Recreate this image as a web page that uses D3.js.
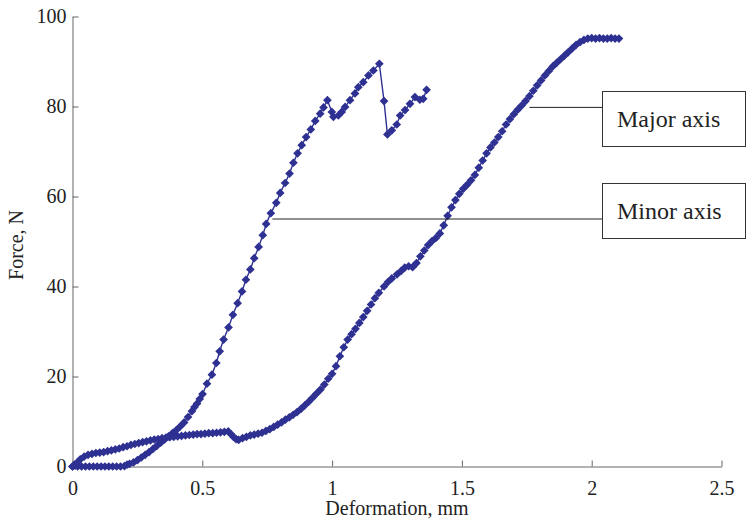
<!DOCTYPE html>
<html>
<head>
<meta charset="utf-8">
<script src="https://cdn.jsdelivr.net/npm/d3@7"></script>
<style>
  html, body { margin: 0; padding: 0; background: #fff; }
  svg { display: block; font-family: "Liberation Serif", "Times New Roman", serif; }
  .axis path, .axis line { stroke: #666; stroke-width: 1; }
  .axis text { font-size: 20px; fill: #222; font-family: "Liberation Serif", serif; }
</style>
</head>
<body>
<svg id="chart"></svg>
<script>
// ─── Data ─────────────────────────────────────────────────────────────────────
// Minor axis: [deformation mm, force N]
const minorAxis = [
  [0, 0], [0.01, 0.2], [0.02, 0], [0.035, 0], [0.05, 0], [0.065, 0], [0.08, 0],
  [0.095, 0], [0.11, 0], [0.125, 0], [0.14, 0], [0.155, 0], [0.17, 0], [0.185, 0],
  [0.2, 0.1], [0.21, 0.4], [0.22, 0.6], [0.235, 0.9], [0.25, 1.4], [0.265, 2],
  [0.28, 2.6], [0.295, 3.2], [0.31, 3.9], [0.325, 4.6], [0.34, 5.3], [0.355, 6],
  [0.37, 6.7], [0.385, 7.4], [0.4, 8.1], [0.415, 8.9], [0.43, 9.8], [0.445, 11],
  [0.46, 12.3], [0.47, 13.2], [0.48, 14], [0.49, 15], [0.501, 16.1], [0.518, 18.4],
  [0.537, 20.4], [0.554, 23], [0.567, 25.6], [0.582, 28.2], [0.601, 30.9],
  [0.618, 33.7], [0.636, 36.3], [0.653, 38.9], [0.668, 41.5], [0.685, 43.8],
  [0.7, 46.3], [0.717, 48.8], [0.733, 51.4], [0.746, 53.9], [0.764, 56.3],
  [0.785, 58.6], [0.8, 60.8], [0.819, 63], [0.836, 65.1], [0.851, 67.5],
  [0.867, 69.6], [0.883, 71.4], [0.9, 73.2], [0.918, 74.9], [0.935, 76.8],
  [0.954, 78.4], [0.967, 79.8], [0.982, 81.4], [0.999, 78.8], [1.005, 77.7],
  [1.024, 78], [1.037, 78.8], [1.05, 79.9], [1.069, 81.4], [1.088, 82.9],
  [1.101, 84.3], [1.12, 85.4], [1.14, 86.9], [1.159, 88], [1.182, 89.5],
  [1.2, 81.2], [1.213, 73.8], [1.23, 74.7], [1.249, 76], [1.262, 78],
  [1.281, 79.2], [1.3, 80.6], [1.319, 82.1], [1.338, 81.5], [1.351, 81.7],
  [1.364, 83.7]
];

// Major axis: [deformation mm, force N]
const majorAxis = [
  [0, 0], [0.01, 0.5], [0.02, 1], [0.03, 1.6], [0.045, 2.2], [0.06, 2.6],
  [0.075, 2.8], [0.09, 3], [0.105, 3.1], [0.12, 3.2], [0.135, 3.4], [0.15, 3.6],
  [0.165, 3.8], [0.18, 4], [0.195, 4.3], [0.21, 4.5], [0.225, 4.8], [0.24, 5],
  [0.255, 5.2], [0.27, 5.4], [0.285, 5.6], [0.3, 5.8], [0.315, 6], [0.33, 6.1],
  [0.345, 6.3], [0.36, 6.4], [0.375, 6.5], [0.39, 6.6], [0.405, 6.7], [0.42, 6.8],
  [0.435, 6.9], [0.45, 7], [0.465, 7.1], [0.48, 7.2], [0.495, 7.2], [0.51, 7.3],
  [0.525, 7.4], [0.54, 7.4], [0.555, 7.5], [0.57, 7.6], [0.585, 7.7], [0.6, 7.8],
  [0.61, 7.2], [0.62, 6.6], [0.63, 6.1], [0.64, 5.9], [0.655, 6.3], [0.67, 6.6],
  [0.685, 6.9], [0.7, 7.1], [0.715, 7.3], [0.73, 7.5], [0.745, 7.9], [0.76, 8.3],
  [0.775, 8.8], [0.79, 9.3], [0.805, 9.8], [0.82, 10.4], [0.835, 10.9],
  [0.85, 11.5], [0.865, 12.1], [0.88, 12.8], [0.895, 13.6], [0.91, 14.4],
  [0.925, 15.3], [0.94, 16.2], [0.955, 17.1], [0.97, 18.2], [0.985, 19.5],
  [1, 20.6], [1.015, 22.3], [1.03, 24.5], [1.045, 26.5], [1.06, 28.2],
  [1.075, 29.4], [1.09, 30.6], [1.105, 31.9], [1.12, 33.2], [1.135, 34.6],
  [1.15, 36], [1.165, 37.4], [1.18, 38.6], [1.2, 40], [1.215, 41], [1.23, 41.8],
  [1.25, 42.7], [1.265, 43.4], [1.28, 44.2], [1.295, 44.5], [1.31, 44.3],
  [1.325, 45.2], [1.34, 46.7], [1.355, 48], [1.37, 49.2], [1.385, 50.1],
  [1.4, 50.8], [1.415, 51.8], [1.43, 53.6], [1.445, 55.7], [1.46, 57.6],
  [1.475, 59.2], [1.49, 60.6], [1.505, 61.7], [1.52, 62.6], [1.535, 63.6],
  [1.55, 64.8], [1.565, 66.4], [1.58, 68], [1.595, 69.6], [1.61, 70.9],
  [1.625, 72], [1.64, 73.2], [1.655, 74.5], [1.67, 76], [1.685, 77.2],
  [1.7, 78.3], [1.715, 79.3], [1.73, 80.2], [1.745, 81.2], [1.76, 82.3],
  [1.775, 83.5], [1.79, 84.7], [1.805, 85.8], [1.82, 86.9], [1.835, 87.9],
  [1.85, 88.9], [1.865, 89.7], [1.88, 90.5], [1.895, 91.3], [1.91, 92.1],
  [1.925, 92.9], [1.94, 93.7], [1.955, 94.3], [1.97, 94.8], [1.985, 95.1],
  [2, 95.2], [2.015, 95.1], [2.03, 95.2], [2.045, 95.1], [2.06, 95.1],
  [2.075, 95.2], [2.09, 95.1], [2.105, 95.1]
];

const xTicks = [0, 0.5, 1, 1.5, 2, 2.5];
const yTicks = [0, 20, 40, 60, 80, 100];

// Callouts: label text and the data point each leader line starts from
const callouts = [
  { label: "Major axis", anchor: [1.76, 79.8] },
  { label: "Minor axis", anchor: [0.77, 55] }
];

// ─── Layout ───────────────────────────────────────────────────────────────────
const W = 746, H = 521;
const plot = { left: 72.5, right: 721.5, top: 16.5, bottom: 466.5 };
const markColor = "#2e3192";
const serif = "'Liberation Serif', 'Times New Roman', serif";
const box = { x: 602, width: 143, height: 55, tops: [91, 183] };

const svg = d3.select("#chart").attr("width", W).attr("height", H);
svg.append("rect").attr("width", W).attr("height", H).attr("fill", "#fff");

const x = d3.scaleLinear().domain([0, 2.5]).range([plot.left, plot.right]);
const y = d3.scaleLinear().domain([0, 100]).range([plot.bottom, plot.top]);

// ─── Axes (ticks point inward) ────────────────────────────────────────────────
svg.append("g")
  .attr("class", "axis")
  .attr("transform", `translate(0,${plot.bottom})`)
  .call(d3.axisBottom(x).tickValues(xTicks).tickFormat(d3.format("~g"))
    .tickSizeInner(-6).tickSizeOuter(0).tickPadding(14))
  .attr("font-family", serif)
  .attr("font-size", 20);

svg.append("g")
  .attr("class", "axis")
  .attr("transform", `translate(${plot.left},0)`)
  .call(d3.axisLeft(y).tickValues(yTicks)
    .tickSizeInner(-6).tickSizeOuter(0).tickPadding(6))
  .attr("font-family", serif)
  .attr("font-size", 20);

svg.append("text")
  .attr("x", (plot.left + plot.right) / 2)
  .attr("y", 515)
  .attr("text-anchor", "middle")
  .attr("font-family", serif)
  .attr("font-size", 20)
  .attr("fill", "#222")
  .text("Deformation, mm");

svg.append("text")
  .attr("transform", "translate(23,245) rotate(-90)")
  .attr("text-anchor", "middle")
  .attr("font-family", serif)
  .attr("font-size", 20)
  .attr("fill", "#222")
  .text("Force, N");

// ─── Series ───────────────────────────────────────────────────────────────────
const line = d3.line().x(d => x(d[0])).y(d => y(d[1]));
const diamond = d3.symbol(d3.symbolSquare, 38);

function drawSeries(data) {
  const g = svg.append("g");
  g.append("path")
    .attr("d", line(data))
    .attr("fill", "none")
    .attr("stroke", markColor)
    .attr("stroke-width", 1.4);
  g.selectAll("path.pt")
    .data(data)
    .join("path")
    .attr("class", "pt")
    .attr("d", diamond)
    .attr("fill", markColor)
    .attr("transform", d => `translate(${x(d[0])},${y(d[1])}) rotate(45)`);
}

drawSeries(minorAxis);
drawSeries(majorAxis);

// ─── Callouts ─────────────────────────────────────────────────────────────────
callouts.forEach((c, i) => {
  const top = box.tops[i];
  const midY = top + box.height / 2;
  svg.append("line")
    .attr("x1", x(c.anchor[0])).attr("y1", y(c.anchor[1]))
    .attr("x2", box.x).attr("y2", y(c.anchor[1]))
    .attr("stroke", "#222").attr("stroke-width", 1);
  svg.append("rect")
    .attr("x", box.x + 0.5).attr("y", top + 0.5)
    .attr("width", box.width).attr("height", box.height)
    .attr("fill", "#fff").attr("stroke", "#333").attr("stroke-width", 1);
  svg.append("text")
    .attr("x", box.x + 15)
    .attr("y", midY + 8)
    .attr("font-family", serif)
    .attr("font-size", 24)
    .attr("fill", "#222")
    .text(c.label);
});
</script>
</body>
</html>
